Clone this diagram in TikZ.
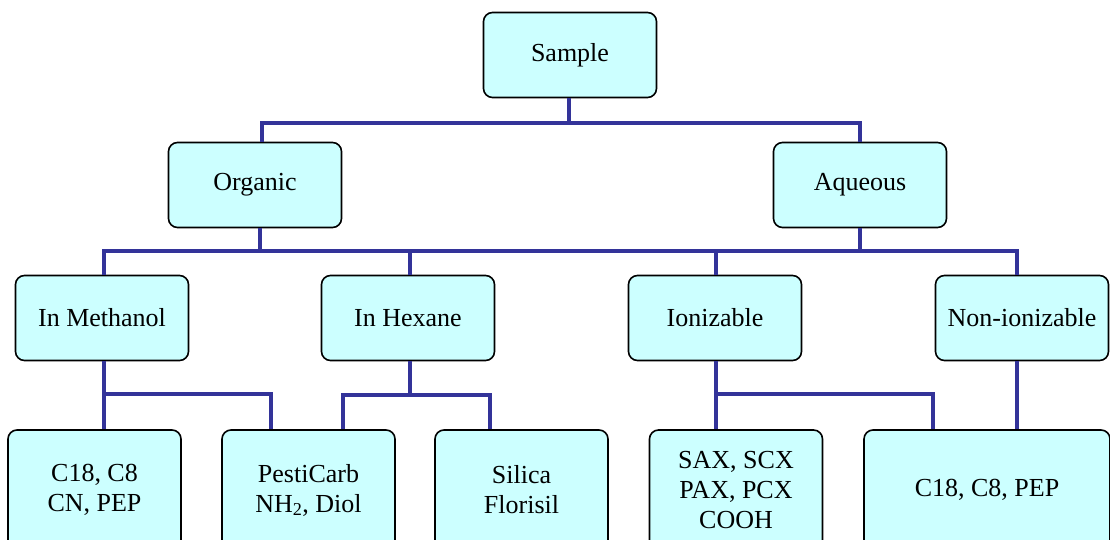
\documentclass[tikz,border=0pt]{standalone}
\usepackage{fontspec}
\setmainfont{Liberation Serif}
\definecolor{boxfill}{HTML}{CCFFFF}
\definecolor{linkblue}{HTML}{333399}
\tikzset{
  box/.style={draw=black, line width=1.6pt, rounded corners=9pt, fill=boxfill,
    minimum width=173pt, minimum height=85pt, inner sep=0pt, align=center,
    font=\fontsize{26}{30}\selectfont},
  tallbox/.style={box, minimum height=120pt},
  link/.style={draw=linkblue, line width=4pt},
}
\begin{document}
\begin{tikzpicture}[x=1pt,y=-1pt]
  \clip (0,0) rectangle (1110,540);
  \node[box] (sample) at (570,55) {Sample};
  \node[box] (organic) at (255,185) {Organic};
  \node[box] (aqueous) at (860,185) {Aqueous};
  \node[box] (methanol) at (102,318) {In Methanol};
  \node[box] (hexane) at (408,318) {In Hexane};
  \node[box] (ionizable) at (715,318) {Ionizable};
  \node[box] (nonionizable) at (1022,318) {Non-ionizable};
  \node[tallbox] (c18c8) at (94.5,490) {C18, C8\\CN, PEP};
  \node[tallbox] (pesticarb) at (308.5,490) {PestiCarb\\NH\textsubscript{2}, Diol};
  \node[tallbox] (silica) at (521.5,490) {Silica\\Florisil};
  \node[tallbox] (sax) at (736,490) {SAX, SCX\\PAX, PCX\\COOH};
  \node[tallbox, minimum width=246pt] (c18pep) at (987,490) {C18, C8, PEP};
  % first split
  \coordinate (s1) at (569,123);
  \draw[link] (sample.south -| s1) -- (s1);
  \draw[link] (organic.north -| 262,0) |- (s1) -| (aqueous.north);
  % second split
  \coordinate (s2) at (260,251);
  \coordinate (hx) at (410,251);
  \coordinate (ix) at (716,251);
  \draw[link] (organic.south -| s2) -- (s2);
  \draw[link] (aqueous.south) -- (aqueous.south |- s2);
  \draw[link] (methanol.north -| 104,0) |- (s2) -| (nonionizable.north -| 1017,0);
  \draw[link] (hx) -- (hexane.north -| hx);
  \draw[link] (ix) -- (ionizable.north -| ix);
  % sorbents
  \coordinate (m1) at (104,394);
  \draw[link] (methanol.south -| m1) -- (c18c8.north -| m1);
  \draw[link] (m1) -| (pesticarb.north -| 271,0);
  \coordinate (h1) at (410,395);
  \draw[link] (hexane.south -| h1) -- (h1);
  \draw[link] (pesticarb.north -| 343,0) |- (h1) -| (silica.north -| 490,0);
  \coordinate (i1) at (716,394);
  \draw[link] (ionizable.south -| i1) -- (sax.north -| i1);
  \draw[link] (i1) -| (c18pep.north -| 933,0);
  \draw[link] (nonionizable.south -| 1017,0) -- (c18pep.north -| 1017,0);
\end{tikzpicture}
\end{document}
